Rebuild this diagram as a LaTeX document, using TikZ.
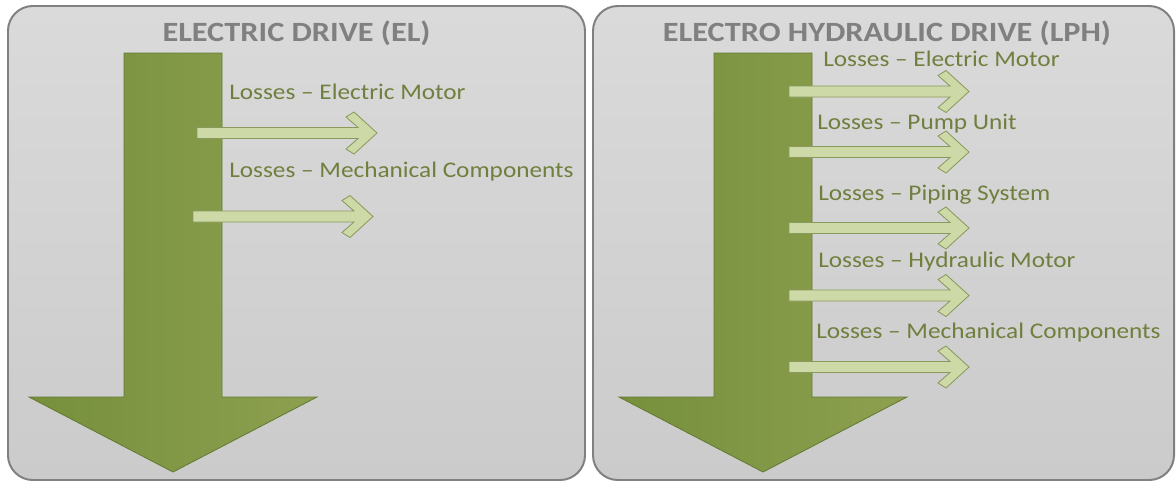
\documentclass[tikz,border=0pt]{standalone}
\usepackage{fontspec}
\setmainfont{Carlito}
\newfontfamily\lossfont{Carlito}[FakeStretch=1.13,Ligatures=TeX]
\newfontfamily\titlefont{Carlito}[FakeStretch=1.16,Ligatures=TeX]
\usepackage{tikz}
\usetikzlibrary{positioning}
\definecolor{pgray}{RGB}{128,128,128}
\definecolor{ptop}{RGB}{218,218,218}
\definecolor{pbot}{RGB}{203,203,203}
\definecolor{dgreen}{RGB}{118,144,60}
\definecolor{mgreen}{RGB}{141,160,80}
\definecolor{lgreen}{RGB}{206,217,168}
\definecolor{ogreen}{RGB}{138,154,92}
\definecolor{tgreen}{RGB}{111,127,62}

% one loss arrow: start x, centre y (px)
\newcommand{\lossarrow}[2]{%
  \draw[lossarr] (#1,#2-5.5) -- ++(161,0) -- ++(-12,-10.5) -- ++(8,-5)
    -- (#1+180,#2) -- (#1+157,#2+21) -- ++(-8,-5) -- ++(12,-10.5)
    -- (#1,#2+5.5) -- cycle;}
% big down arrow: centre x (px)
\newcommand{\powerarrow}[1]{%
  \draw[bigarr] (#1-49,53) -- (#1+49,53) -- (#1+49,397) -- (#1+144,397)
    -- (#1,472) -- (#1-144,397) -- (#1-49,397) -- cycle;}

\begin{document}
\begin{tikzpicture}[x=0.025cm, y=-0.025cm,
  panel/.style={draw=pgray, line width=1.4pt, rounded corners=0.62cm,
    top color=ptop, bottom color=pbot},
  title/.style={font=\titlefont\fontsize{19.8}{24}\selectfont\bfseries,
    text=pgray, inner sep=0pt, anchor=base},
  loss/.style={font=\lossfont\fontsize{15.9}{19}\selectfont, text=tgreen,
    inner sep=0pt, anchor=base west},
  bigarr/.style={draw=dgreen!85!black, line width=0.6pt,
    left color=dgreen, right color=mgreen},
  lossarr/.style={draw=ogreen, line width=0.6pt, fill=lgreen}
]
  \useasboundingbox (0,0) rectangle (1176,482);

  % left panel
  \draw[panel] (8,6) rectangle (585,480);
  \node[title] (eltitle) at (296.5,41) {ELECTRIC DRIVE (EL)};
  \powerarrow{173}
  \lossarrow{197}{133}
  \lossarrow{193}{216.5}
  \node[loss] (elmot) at (229,99) {Losses -- Electric Motor};
  \node[loss] (elmech) at (229,177) {Losses -- Mechanical Components};

  % right panel
  \draw[panel] (593,6) rectangle (1174,480);
  \node[title] (lphtitle) at (887,41) {ELECTRO HYDRAULIC DRIVE (LPH)};
  \powerarrow{763}
  \foreach \yc in {91.5,152,228,295.5,367}{
    \lossarrow{789}{\yc}
  }
  \node[loss] (lphmot) at (823,66) {Losses -- Electric Motor};
  \node[loss] (lphpump) at (817,129) {Losses -- Pump Unit};
  \node[loss] (lphpipe) at (818,200) {Losses -- Piping System};
  \node[loss] (lphhyd) at (818,267) {Losses -- Hydraulic Motor};
  \node[loss] (lphmech) at (816,338) {Losses -- Mechanical Components};
\end{tikzpicture}
\end{document}
